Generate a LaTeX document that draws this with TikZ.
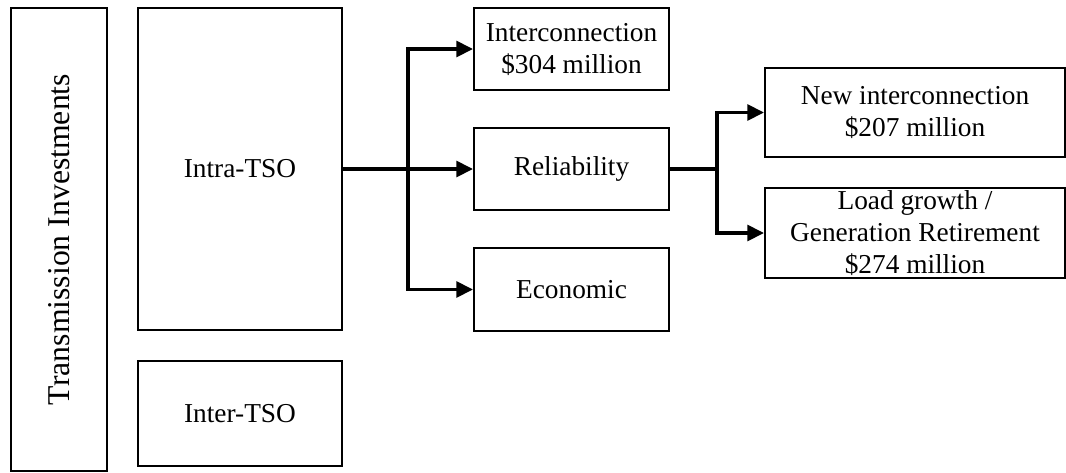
\documentclass[tikz,border=0pt]{standalone}
\usepackage{fontspec}
\setmainfont{Liberation Serif}
\usetikzlibrary{arrows.meta}
\begin{document}
\begin{tikzpicture}[x=0.75pt,y=-0.75pt,
  box/.style={draw=black,line width=1.6pt,rectangle,inner sep=0pt,align=center,
    font=\fontsize{20.5}{24}\selectfont},
  link/.style={line width=2.4pt,line join=miter,-{Triangle[length=12.5pt,width=12pt]}},
  plain/.style={line width=2.4pt}]
\useasboundingbox (0,0) rectangle (1066,472);
% category column
\node[box,minimum width=96*0.75pt,minimum height=463*0.75pt] (title) at (59,239.5)
  {\rotatebox{90}{\fontsize{23.8}{28}\selectfont Transmission Investments}};
\node[box,minimum width=204*0.75pt,minimum height=322*0.75pt] (intra) at (240,169) {Intra-TSO};
\node[box,minimum width=204*0.75pt,minimum height=105*0.75pt] (intertso) at (240,413.5) {Inter-TSO};
% purposes
\node[box,minimum width=195*0.75pt,minimum height=82*0.75pt] (ic) at (571.5,49) {Interconnection\\\$304 million};
\node[box,minimum width=195*0.75pt,minimum height=82*0.75pt] (rel) at (571.5,169) {Reliability};
\node[box,minimum width=195*0.75pt,minimum height=83*0.75pt] (eco) at (571.5,289.5) {Economic};
% reliability split
\node[box,minimum width=300*0.75pt,minimum height=89*0.75pt] (newic) at (915,112.5) {New interconnection\\\$207 million};
\node[box,minimum width=300*0.75pt,minimum height=90*0.75pt] (load) at (915,233) {Load growth /\\Generation Retirement\\\$274 million};
% branch points
\coordinate (b1) at (408,169);
\coordinate (b2) at (717,169);
\draw[link] (intra.east) -- (rel.west);
\draw[link] (b1) |- (ic.west);
\draw[link] (b1) |- (eco.west);
\draw[plain] (rel.east) -- (b2);
\draw[link] (b2) |- (newic.west);
\draw[link] (b2) |- (load.west);
\end{tikzpicture}
\end{document}
